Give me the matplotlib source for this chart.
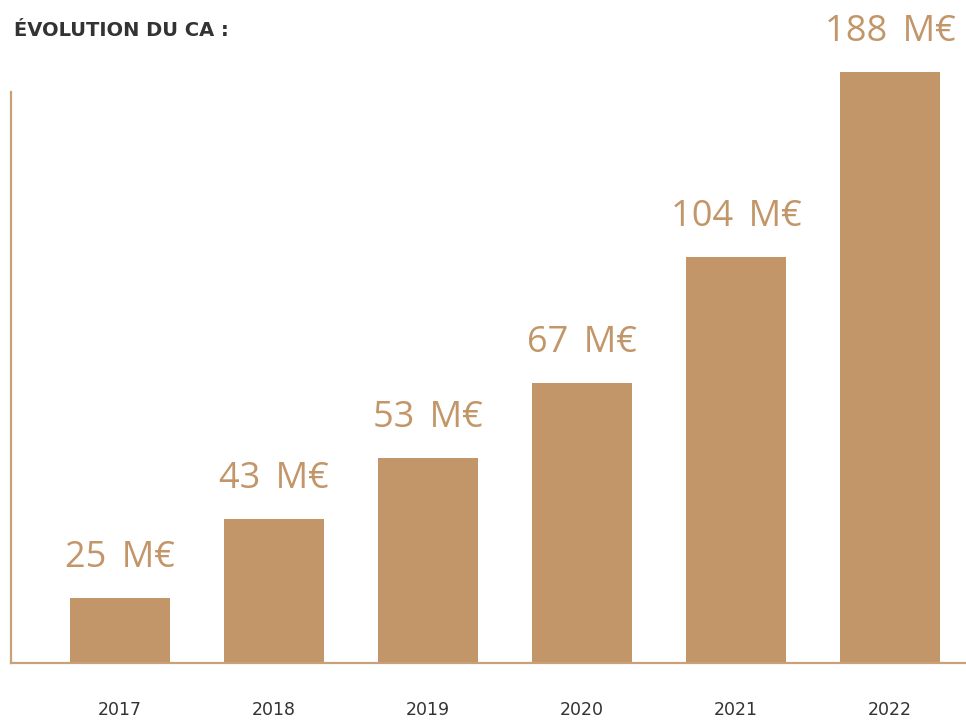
import matplotlib
matplotlib.use("Agg")
import matplotlib.pyplot as plt
import numpy as np

# --- données ---
annees = ["2017", "2018", "2019", "2020", "2021", "2022"]
ca_millions = [25, 43, 53, 67, 104, 188]
# hauteur des barres telle que lue sur l'image (échelle non linéaire de l'original)
hauteurs = [65, 144, 205, 280, 406, 591]

BRONZE = "#c3966a"
GRIS = "#333333"

fig = plt.figure(figsize=(9.66, 7.21), dpi=100)
ax = fig.add_axes([0.0114, 0.0804, 0.9886, 0.792])

x = np.arange(len(annees))
ax.bar(x, hauteurs, width=0.649, color=BRONZE, clip_on=False, zorder=2)

# étiquettes de valeur au-dessus des barres
for xi, h, v in zip(x, hauteurs, ca_millions):
    ax.text(xi, h + 22, f"{v}\u2009 M€", ha="center", va="bottom",
            fontsize=26, color=BRONZE, family=["Open Sans", "DejaVu Sans"],
            clip_on=False)

ax.set_xlim(-0.708, 5.494)
ax.set_ylim(0, 571)

for s in ["top", "right"]:
    ax.spines[s].set_visible(False)
for s in ["left", "bottom"]:
    ax.spines[s].set_color("#c8a07a")
    ax.spines[s].set_linewidth(1.6)

ax.set_yticks([])
ax.set_xticks(x)
ax.set_xticklabels(annees, fontsize=12.5, color=GRIS, family="DejaVu Sans")
ax.tick_params(axis="x", length=0, pad=27)

fig.text(14 / 966, 1 - 31 / 721, "ÉVOLUTION DU CA :", ha="left", va="center",
         fontsize=14, fontweight="bold", color=GRIS, family="DejaVu Sans")

fig.savefig("out.png", dpi=100)
